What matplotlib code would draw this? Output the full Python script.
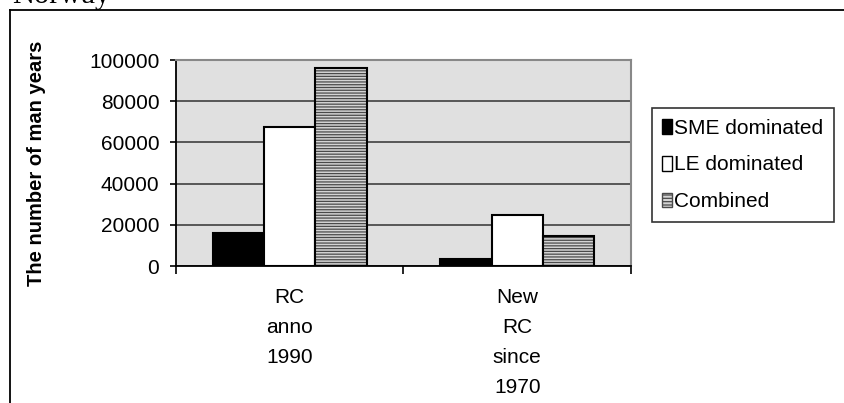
import numpy as np
import matplotlib.pyplot as plt
from matplotlib.patches import Patch
from matplotlib.lines import Line2D

categories = ['RC\nanno\n1990', 'New\nRC\nsince\n1970']
series_names = ['SME dominated', 'LE dominated', 'Combined']
sme = [15800, 3200]
le = [67600, 25000]
combined = [96000, 14400]
yticks = [0, 20000, 40000, 60000, 80000, 100000]

plt.rcParams['font.family'] = ['Liberation Sans', 'DejaVu Sans']
plt.rcParams['font.size'] = 15
plt.rcParams['hatch.linewidth'] = 0.9

W, H = 845, 403
fig = plt.figure(figsize=(W / 100, H / 100), dpi=100)
ax = fig.add_axes([176 / W, 1 - 266 / H, (631 - 176) / W, (266 - 60) / H])

x = np.arange(len(categories)) + 0.5
bw = 0.226

ax.bar(x - bw, sme, bw, color='black', edgecolor='black', linewidth=1.5, zorder=3)
ax.bar(x, le, bw, color='white', edgecolor='black', linewidth=1.5, zorder=3)
ax.bar(x + bw, combined, bw, color='#d4d4d4', edgecolor='#4a4a4a', hatch='------',
       linewidth=0, zorder=3)
ax.bar(x + bw, combined, bw, fill=False, edgecolor='black', linewidth=1.5, zorder=4)

ax.set_facecolor('#e0e0e0')
ax.set_xlim(0, len(categories))
ax.set_ylim(0, 100000)
ax.set_yticks(yticks)
ax.set_yticklabels([str(v) for v in yticks])
ax.yaxis.grid(True, color='#404040', linewidth=1.2, zorder=0)
ax.set_axisbelow(True)

# category boundaries as major ticks, labels on minor ticks
ax.set_xticks(np.arange(len(categories) + 1))
ax.set_xticklabels([])
ax.set_xticks(x, minor=True)
ax.set_xticklabels(categories, minor=True, linespacing=1.72)
ax.tick_params(axis='x', which='major', direction='out', length=6, width=1.2)
ax.tick_params(axis='x', which='minor', length=0, pad=16)
ax.tick_params(axis='y', direction='out', length=4, width=1.2, pad=8)

for side in ['left', 'bottom']:
    ax.spines[side].set_color('black')
    ax.spines[side].set_linewidth(1.3)
for side in ['top', 'right']:
    ax.spines[side].set_color('#888888')
    ax.spines[side].set_linewidth(1.5)

ax.set_ylabel('The number of man years', fontweight='bold', fontsize=14.5)
ax.yaxis.set_label_coords((46 - 176) / (631 - 176), 0.5)

handles = [
    Patch(facecolor='black', edgecolor='black'),
    Patch(facecolor='white', edgecolor='black'),
    Patch(facecolor='#d4d4d4', edgecolor='#4a4a4a', hatch='-----'),
]
leg = fig.legend(handles, series_names, loc='center left',
                 bbox_to_anchor=(652 / W, 1 - 165 / H),
                 frameon=True, fancybox=False, edgecolor='black',
                 handlelength=0.45, handleheight=0.7, handletextpad=0.12,
                 labelspacing=0.85, borderpad=0.5, borderaxespad=0)
leg.get_frame().set_linewidth(1.2)

# outer chart frame and heading
fig.add_artist(Line2D([10 / W, 10 / W], [0, 1 - 10 / H], color='black', linewidth=1.3))
fig.add_artist(Line2D([10 / W, 1], [1 - 10 / H, 1 - 10 / H], color='black', linewidth=1.3))
fig.text(12 / W, 1 - 3 / H, 'Norway', family='Liberation Serif', fontsize=22,
         va='baseline', ha='left')

fig.savefig('out.png', dpi=100)
